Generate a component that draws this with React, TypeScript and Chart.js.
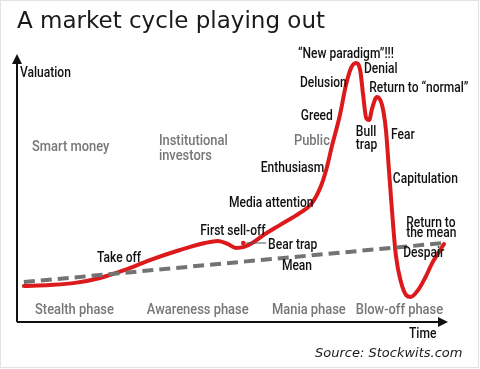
import React, { useEffect, useRef } from "react";
import { Chart, registerables } from "chart.js";

Chart.register(...registerables);

// Market cycle curve (time 0-100, valuation 0-100)
const curveX = [1.6, 7.7, 13.5, 19.3, 25.1, 30.9, 37.9, 43.7, 46.7, 49.1, 50.9, 52.8, 54.7, 57.0, 61.2, 65.8, 68.6, 70.5, 71.9, 73.3, 75.1, 76.5, 77.7, 78.8, 79.8, 80.5, 81.2, 81.9, 82.6, 83.7, 84.9, 85.8, 86.5, 87.2, 88.1, 89.3, 90.5, 91.6, 93.3, 94.9, 96.7, 98.4, 99.3];
const curveY = [13.9, 14.3, 15.1, 17.0, 20.1, 23.9, 27.8, 30.5, 31.3, 30.1, 28.6, 29.0, 30.5, 33.2, 37.5, 42.1, 45.9, 51.7, 58.7, 68.3, 79.9, 91.5, 98.1, 100, 97.3, 87.6, 78.8, 78.0, 82.6, 86.9, 83.8, 74.1, 58.7, 43.2, 25.9, 15.4, 10.4, 9.7, 12.4, 17.0, 23.2, 27.8, 30.1];

// Mean line
const meanX = [1.6, 99.3];
const meanY = [15.4, 30.5];

// Stage annotations: text, x, y (data units)
const stageText = ["Take off", "First sell-off", "Media attention", "Enthusiasm", "Greed", "Delusion", "Denial", "Return to \u201Cnormal\u201D", "Bull", "trap", "Fear", "Capitulation", "Return to", "the mean", "Despair", "Bear trap", "Mean"];
const stageX = [18.6, 42.6, 49.3, 56.7, 66.0, 65.8, 80.7, 81.9, 78.8, 78.8, 87.0, 87.4, 90.5, 90.5, 89.8, 58.4, 61.6];
const stageY = [24.7, 35.1, 45.9, 59.1, 79.2, 91.9, 97.3, 90.0, 73.0, 68.3, 72.2, 55.2, 38.2, 34.0, 26.3, 29.7, 21.6];

// Participant groups (gray)
const groupText = ["Smart money", "Institutional", "investors", "Public"];
const groupX = [3.5, 33.0, 33.0, 64.4];
const groupY = [67.6, 69.9, 64.1, 69.9];

// Phases (gray)
const phaseText = ["Stealth phase", "Awareness phase", "Mania phase", "Blow-off phase"];
const phaseX = [4.2, 30.2, 59.3, 78.8];
const phaseY = [4.6, 4.6, 4.6, 4.6];

const bearTrapPoint = [52.6, 30.5];
const paradigmLabel = { text: "\u201CNew paradigm\u201D!!!", x: 76.5, y: 103.1 };

const FONT = 'Roboto, "DejaVu Sans", sans-serif';
const SQUEEZE = 0.86;

function narrowText(ctx: any, text: string, x: number, y: number, size: number, weight: number, align: string) {
  ctx.save();
  ctx.font = `${weight} ${size}px ${FONT}`;
  ctx.textAlign = "left";
  ctx.textBaseline = "middle";
  const w = ctx.measureText(text).width * SQUEEZE;
  let left = x;
  if (align === "center") left = x - w / 2;
  ctx.translate(left, y);
  ctx.scale(SQUEEZE, 1);
  ctx.fillText(text, 0, 0);
  ctx.restore();
}

export default function App() {
  const ref = useRef<HTMLCanvasElement | null>(null);

  useEffect(() => {
    document.body.style.margin = "0";
    const canvas = ref.current;
    if (!canvas) return;

    const overlay = {
      id: "overlay",
      beforeDraw(chart: any) {
        const ctx = chart.ctx;
        ctx.save();
        ctx.fillStyle = "#ffffff";
        ctx.fillRect(0, 0, chart.width, chart.height);
        ctx.strokeStyle = "#e2e2e2";
        ctx.lineWidth = 1;
        ctx.strokeRect(0.5, 0.5, chart.width - 2, chart.height - 2);
        ctx.restore();
      },
      beforeDatasetsDraw(chart: any) {
        const ctx = chart.ctx;
        const a = chart.chartArea;
        ctx.save();
        ctx.strokeStyle = "#111";
        ctx.fillStyle = "#111";
        ctx.lineWidth = 2;
        ctx.beginPath();
        ctx.moveTo(a.left, a.bottom);
        ctx.lineTo(a.left, a.top - 2);
        ctx.stroke();
        ctx.beginPath();
        ctx.moveTo(a.left, a.top - 9);
        ctx.lineTo(a.left - 5, a.top + 1);
        ctx.lineTo(a.left + 5, a.top + 1);
        ctx.closePath();
        ctx.fill();
        ctx.beginPath();
        ctx.moveTo(a.left, a.bottom);
        ctx.lineTo(a.right - 4, a.bottom);
        ctx.stroke();
        ctx.beginPath();
        ctx.moveTo(a.right + 1, a.bottom);
        ctx.lineTo(a.right - 9, a.bottom - 5);
        ctx.lineTo(a.right - 9, a.bottom + 5);
        ctx.closePath();
        ctx.fill();
        ctx.restore();
      },
      afterDatasetsDraw(chart: any) {
        const ctx = chart.ctx;
        const xs = chart.scales.x;
        const ys = chart.scales.y;
        const a = chart.chartArea;
        ctx.save();

        ctx.fillStyle = "#777";
        groupText.forEach((t, i) => narrowText(ctx, t, xs.getPixelForValue(groupX[i]), ys.getPixelForValue(groupY[i]), 15, 500, "left"));
        phaseText.forEach((t, i) => narrowText(ctx, t, xs.getPixelForValue(phaseX[i]), ys.getPixelForValue(phaseY[i]), 15, 500, "left"));

        ctx.fillStyle = "#111";
        stageText.forEach((t, i) => narrowText(ctx, t, xs.getPixelForValue(stageX[i]), ys.getPixelForValue(stageY[i]), 14, 500, "left"));
        narrowText(ctx, paradigmLabel.text, xs.getPixelForValue(paradigmLabel.x), ys.getPixelForValue(paradigmLabel.y), 14, 500, "center");

        const bx = xs.getPixelForValue(bearTrapPoint[0]);
        const by = ys.getPixelForValue(bearTrapPoint[1]);
        ctx.strokeStyle = "#555";
        ctx.lineWidth = 1;
        ctx.beginPath();
        ctx.moveTo(bx + 2, by);
        ctx.lineTo(xs.getPixelForValue(stageX[15]) - 2, by);
        ctx.stroke();
        ctx.fillStyle = "#d7191c";
        ctx.beginPath();
        ctx.arc(bx, by, 2.2, 0, Math.PI * 2);
        ctx.fill();

        ctx.fillStyle = "#111";
        narrowText(ctx, "Valuation", a.left + 3, a.top + 10, 14, 500, "left");
        narrowText(ctx, "Time", a.right - 38, a.bottom + 12, 14, 500, "left");

        ctx.font = `23px "DejaVu Sans", sans-serif`;
        ctx.fillStyle = "#1a1a1a";
        ctx.textAlign = "left";
        ctx.textBaseline = "alphabetic";
        ctx.fillText("A market cycle playing out", 17, 28);
        ctx.font = `italic 13px "DejaVu Sans", sans-serif`;
        ctx.fillText("Source: Stockwits.com", 315, 357);
        ctx.restore();
      },
    };

    const chart = new Chart(canvas, {
      type: "line",
      data: {
        datasets: [
          {
            label: "Mean",
            data: meanX.map((x, i) => ({ x, y: meanY[i] })),
            borderColor: "#737373",
            borderWidth: 4,
            borderDash: [11, 6],
            pointRadius: 0,
            tension: 0,
          },
          {
            label: "Market cycle",
            data: curveX.map((x, i) => ({ x, y: curveY[i] })),
            borderColor: "#dc1a1c",
            borderWidth: 4,
            pointRadius: 0,
            cubicInterpolationMode: "monotone",
            borderCapStyle: "round",
            borderJoinStyle: "round",
            clip: false,
          },
        ],
      },
      options: {
        animation: false,
        responsive: false,
        maintainAspectRatio: false,
        layout: { padding: { left: 17, right: 33, top: 63, bottom: 47 } },
        plugins: { legend: { display: false }, tooltip: { enabled: false }, title: { display: false } },
        scales: {
          x: { type: "linear", min: 0, max: 100, display: false },
          y: { type: "linear", min: 0, max: 100, display: false },
        },
      },
      plugins: [overlay],
    } as any);

    return () => chart.destroy();
  }, []);

  return <canvas ref={ref} width={480} height={369} style={{ display: "block" }} />;
}
